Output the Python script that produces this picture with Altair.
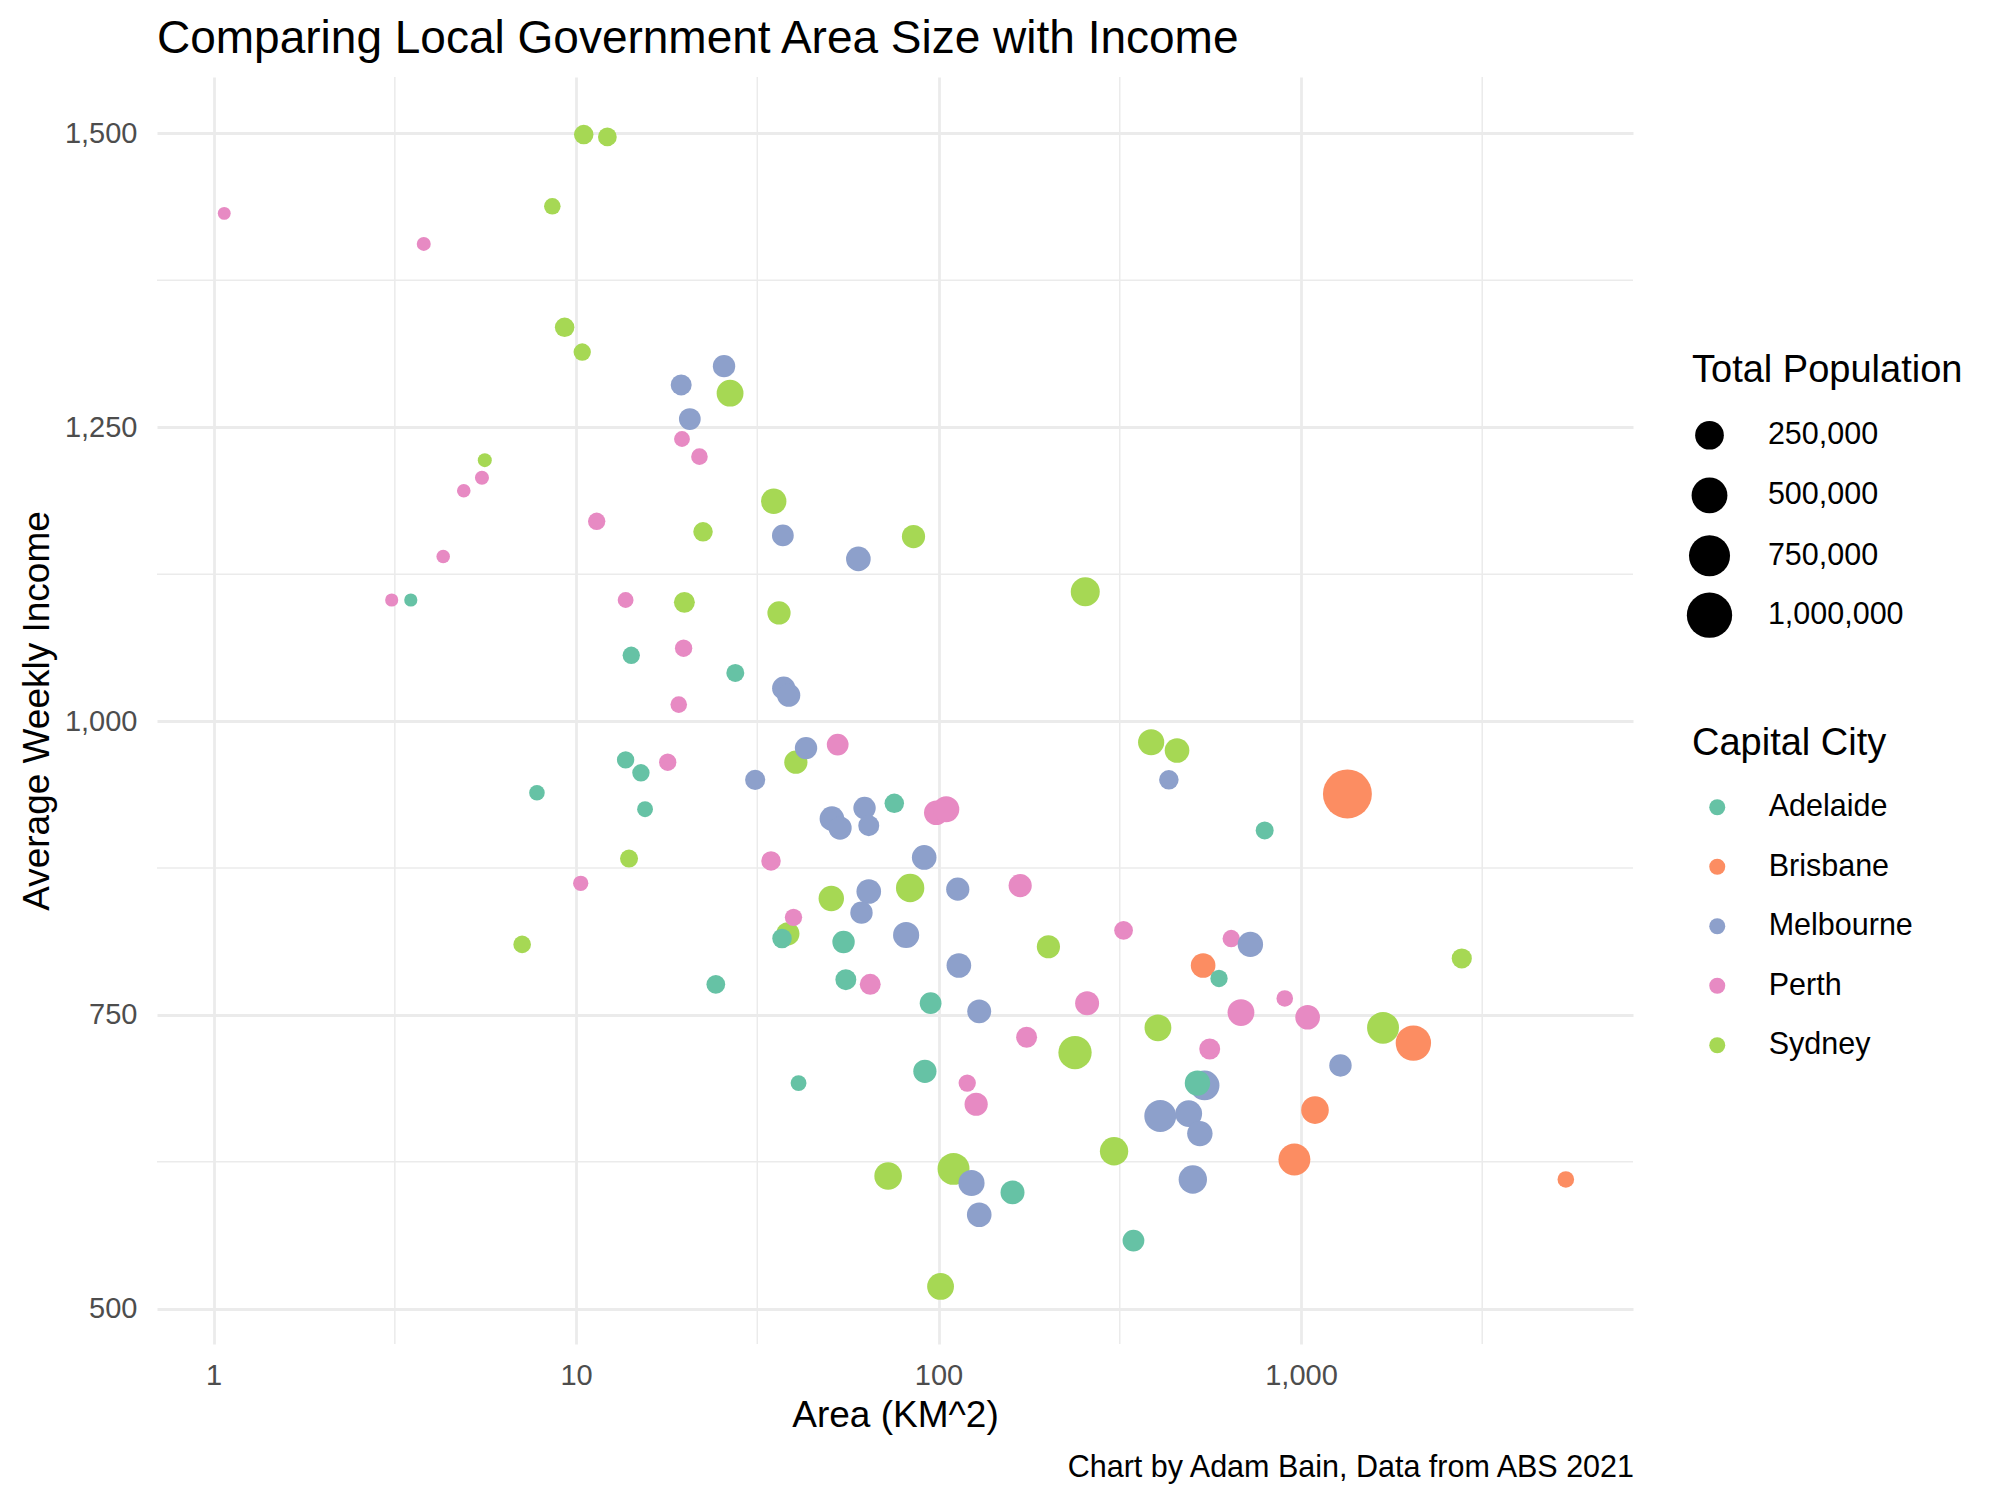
import altair as alt
import pandas as pd

FONT = "Liberation Sans"

TITLE = "Comparing Local Government Area Size with Income"
CAPTION = "Chart by Adam Bain, Data from ABS 2021"
X_TITLE = "Area (KM^2)"
Y_TITLE = "Average Weekly Income"

CITIES = ["Adelaide", "Brisbane", "Melbourne", "Perth", "Sydney"]
CITY_COLORS = ["#66C2A5", "#FC8D62", "#8DA0CB", "#E78AC3", "#A6D854"]

X_TICKS = [1, 10, 100, 1000]
X_MINOR = [3.1623, 31.623, 316.23, 3162.3]
Y_TICKS = [500, 750, 1000, 1250, 1500]
Y_MINOR = [625, 875, 1125, 1375]
POP_LEGEND = [250000, 500000, 750000, 1000000]

ADELAIDE_AREA = [3.5, 7.8, 14.2, 27.5, 13.7, 15.1, 15.5, 75.5, 37.0, 54.7, 24.3, 55.5, 95.1, 41.1, 91.7, 160, 345, 518, 594, 794]
ADELAIDE_INCOME = [1103, 939, 1056, 1041, 967, 956, 925, 930, 815, 812, 776, 780, 760, 692, 702, 599, 558, 692, 781, 907]
ADELAIDE_POP = [2800, 17700, 34000, 41000, 34000, 34000, 20000, 60000, 60000, 105000, 50000, 81000, 94000, 20000, 120000, 135000, 94000, 166000, 34000, 41000]

BRISBANE_AREA = [1343, 537, 1093, 959, 2042, 5378]
BRISBANE_INCOME = [938, 792, 669, 627, 726, 610]
BRISBANE_POP = [1242000, 149000, 220000, 351000, 482000, 26500]

MELBOURNE_AREA = [25.6, 19.5, 20.6, 37.2, 60.1, 37.4, 38.6, 31.2, 43.1, 50.8, 53.5, 62.5, 64.2, 91.3, 64.2, 113, 61.3, 81.4, 113.8, 129.5, 123.3, 129.5, 432, 725, 1285, 542, 409, 490, 526, 503]
MELBOURNE_INCOME = [1302, 1286, 1257, 1158, 1138, 1028, 1022, 950, 977, 917, 909, 926, 911, 884, 855, 857, 837, 818, 792, 753, 607, 580, 950, 810, 707, 690, 664, 666, 649, 610]
MELBOURNE_POP = [105000, 81000, 94000, 94000, 149000, 120000, 120000, 69000, 105000, 149000, 120000, 105000, 81000, 149000, 149000, 120000, 105000, 184000, 149000, 135000, 184000, 149000, 60000, 166000, 105000, 282000, 351000, 200000, 166000, 241000]

PERTH_AREA = [1.07, 3.8, 5.5, 4.9, 4.3, 3.1, 19.6, 21.9, 11.4, 13.7, 19.8, 19.2, 17.9, 52.7, 98.6, 105, 34.5, 10.3, 39.8, 64.8, 120, 127, 168, 175, 257, 324, 642, 902, 683, 1043, 560]
PERTH_INCOME = [1432, 1406, 1207, 1196, 1140, 1103, 1240, 1225, 1170, 1103, 1062, 1014, 965, 980, 922, 925, 881, 862, 833, 776, 692, 674, 860, 731, 760, 822, 815, 764, 752, 748, 721]
PERTH_POP = [1700, 7100, 7100, 4700, 4700, 2800, 20000, 26500, 34000, 20000, 34000, 26500, 34000, 94000, 149000, 184000, 60000, 15400, 34000, 81000, 34000, 120000, 120000, 81000, 135000, 50000, 34000, 26500, 200000, 149000, 81000]

SYDNEY_AREA = [10.5, 12.2, 8.6, 9.3, 10.4, 26.6, 5.6, 22.4, 35.1, 85.3, 19.9, 36.3, 254, 40.4, 14.0, 7.1, 50.6, 83.5, 38.4, 201, 386, 455, 403, 238, 1684, 2777, 305, 72.6, 110, 101.3]
SYDNEY_INCOME = [1499, 1497, 1438, 1335, 1314, 1279, 1222, 1161, 1187, 1157, 1101, 1092, 1110, 965, 883, 810, 849, 858, 819, 808, 982, 975, 739, 718, 739, 798, 634, 613, 619, 519]
SYDNEY_POP = [60000, 50000, 26500, 60000, 34000, 200000, 7100, 60000, 166000, 120000, 81000, 120000, 259000, 120000, 41000, 37000, 166000, 241000, 120000, 120000, 184000, 149000, 200000, 400000, 351000, 69000, 241000, 220000, 351000, 200000]

# drawing order (later drawn on top)
series = [
    ("Sydney", SYDNEY_AREA, SYDNEY_INCOME, SYDNEY_POP),
    ("Perth", PERTH_AREA, PERTH_INCOME, PERTH_POP),
    ("Brisbane", BRISBANE_AREA, BRISBANE_INCOME, BRISBANE_POP),
    ("Melbourne", MELBOURNE_AREA, MELBOURNE_INCOME, MELBOURNE_POP),
    ("Adelaide", ADELAIDE_AREA, ADELAIDE_INCOME, ADELAIDE_POP),
]
rows = []
for city, areas, incomes, pops in series:
    for a, inc, p in zip(areas, incomes, pops):
        rows.append({"city": city, "area": a, "income": inc, "population": p})
df = pd.DataFrame(rows)

X_DOMAIN = [0.698, 8241]
Y_DOMAIN = [470, 1548]
GRID = "#EBEBEB"

x_scale = alt.Scale(type="log", domain=X_DOMAIN, nice=False)
y_scale = alt.Scale(domain=Y_DOMAIN, nice=False, zero=False)

x_axis = alt.Axis(
    values=X_TICKS, format=",.0f", grid=True, gridColor=GRID, gridWidth=2.8,
    domain=False, ticks=False, tickSize=0, labelFlush=False, labelOverlap=False,
    labelFont=FONT, labelFontSize=29, labelColor="#4D4D4D", labelPadding=17,
    title=X_TITLE, titleFont=FONT, titleFontSize=37, titleFontWeight="normal",
    titleColor="black", titlePadding=7,
)
y_axis = alt.Axis(
    values=Y_TICKS, format=",.0f", grid=True, gridColor=GRID, gridWidth=2.8,
    domain=False, ticks=False, tickSize=0, labelFlush=False, labelOverlap=False,
    labelFont=FONT, labelFontSize=29, labelColor="#4D4D4D", labelPadding=20,
    title=Y_TITLE, titleFont=FONT, titleFontSize=37, titleFontWeight="normal",
    titleColor="black", titlePadding=8,
)

minor_x = alt.Chart(pd.DataFrame({"area": X_MINOR})).mark_rule(
    color=GRID, strokeWidth=1.5
).encode(x=alt.X("area:Q", scale=x_scale))

minor_y = alt.Chart(pd.DataFrame({"income": Y_MINOR})).mark_rule(
    color=GRID, strokeWidth=1.5
).encode(y=alt.Y("income:Q", scale=y_scale))

points = alt.Chart(df).mark_circle(opacity=1, color="black").encode(
    x=alt.X("area:Q", scale=x_scale, axis=x_axis),
    y=alt.Y("income:Q", scale=y_scale, axis=y_axis),
    size=alt.Size(
        "population:Q",
        scale=alt.Scale(type="pow", exponent=0.75, domain=[1700, 1242000], range=[166, 2391], zero=False),
        legend=alt.Legend(
            title="Total Population", orient="none", legendX=1535, legendY=275,
            values=POP_LEGEND, format=",.0f", padding=0, gridAlign="all",
            titleFont=FONT, titleFontSize=38, titleFontWeight="normal", titleColor="black",
            titleLimit=500, titlePadding=30,
            labelFont=FONT, labelFontSize=30.5, labelColor="black", labelLimit=400,
            labelOffset=35.4, symbolOffset=-5.5, rowPadding=11.4,
            symbolType="circle", symbolFillColor="black", symbolStrokeWidth=0, symbolOpacity=1,
        ),
    ),
    color=alt.Color(
        "city:N",
        scale=alt.Scale(domain=CITIES, range=CITY_COLORS),
        legend=alt.Legend(
            title="Capital City", orient="none", legendX=1535, legendY=648, padding=0,
            titleFont=FONT, titleFontSize=38, titleFontWeight="normal", titleColor="black",
            titleLimit=500, titlePadding=29,
            labelFont=FONT, labelFontSize=30.5, labelColor="black", labelLimit=400,
            labelOffset=36.2, symbolOffset=10, rowPadding=28.5,
            symbolType="circle", symbolSize=256, symbolStrokeWidth=0, symbolOpacity=1,
        ),
    ),
)

caption = alt.Chart(pd.DataFrame({"t": [CAPTION]})).mark_text(
    align="right", baseline="alphabetic", font=FONT, fontSize=30.5, color="black"
).encode(x=alt.value(1477), y=alt.value(1400), text="t:N")

chart = alt.layer(minor_x, minor_y, points, caption).properties(
    width=1476,
    height=1267,
    background="white",
    title=alt.TitleParams(
        TITLE, anchor="start", frame="group", font=FONT, fontSize=46,
        fontWeight="normal", color="black", offset=13,
    ),
    autosize=alt.AutoSizeParams(type="none"),
    padding={"left": 149, "top": 69, "right": 359, "bottom": 140},
).configure_view(stroke=None)

chart.save("out.html", embed_options={"renderer": "svg", "actions": False})
